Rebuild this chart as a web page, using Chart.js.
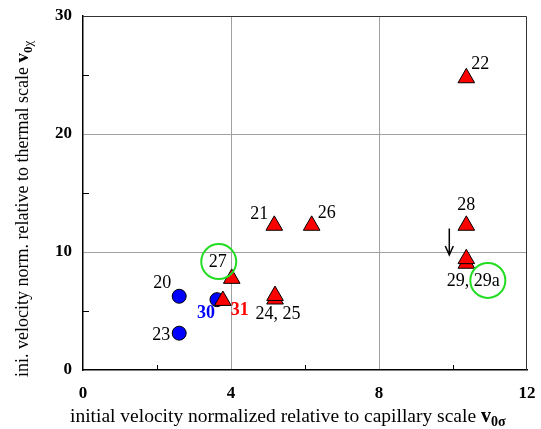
<!DOCTYPE html>
<html><head><meta charset="utf-8">
<script src="https://cdn.jsdelivr.net/npm/chart.js@4/dist/chart.umd.min.js"></script>
<style>html,body{margin:0;padding:0;background:#fff}#wrap{width:541px;height:429px;position:relative}</style>
</head><body><div id="wrap"><canvas id="c"></canvas></div>
<script>
// ---- data ----
const xTickLabels = [0, 4, 8, 12];
const yTickLabels = [0, 10, 20, 30];
// blue circles: runs 20, 23, 30
const circleNames = ['20', '23', '30'];
const circleX = [2.6, 2.6, 3.62];
const circleY = [6.25, 3.12, 5.96];
// red triangles: runs 31, 27, 21, 26, 25, 24, 22, 28, 29a, 29
const triNames = ['31', '27', '21', '26', '25', '24', '22', '28', '29a', '29'];
const triX = [3.78, 4.02, 5.17, 6.18, 5.19, 5.19, 10.36, 10.36, 10.36, 10.36];
const triY = [5.88, 7.75, 12.25, 12.25, 6.0, 6.3, 24.75, 12.25, 9.03, 9.42];
// arrow (data units)
const arrowX = [9.9];
const arrowY = [12.0, 9.75];

// ---- annotation layout (pixel offsets from the anchoring point) ----
const SERIF = "'Liberation Serif','Times New Roman',serif";
const labelLayout = [
  {text:'20', ds:1, i:0, dx:-17, dy:-13},
  {text:'23', ds:1, i:1, dx:-18, dy:2},
  {text:'30', ds:1, i:2, dx:-11, dy:14, color:'#0000ff', bold:true},
  {text:'31', ds:0, i:0, dx:17, dy:10, color:'#ff0000', bold:true},
  {text:'27', ds:0, i:1, dx:-14, dy:-16, ring:'all'},
  {text:'21', ds:0, i:2, dx:-15, dy:-11},
  {text:'26', ds:0, i:3, dx:15, dy:-12},
  {text:'24, 25', ds:0, i:4, dx:3, dy:15},
  {text:'22', ds:0, i:6, dx:14, dy:-14},
  {text:'28', ds:0, i:7, dx:0, dy:-20},
  {text:'29, 29a', ds:0, i:8, dx:7, dy:18, ring:'29a'}
];

const deco = {
  id: 'deco',
  beforeDatasetsDraw(chart) {
    const {ctx, chartArea: a, scales: {x, y}} = chart;
    ctx.save();
    // top / right frame
    ctx.strokeStyle = '#333'; ctx.lineWidth = 1;
    ctx.beginPath();
    ctx.moveTo(a.left, a.top + 0.5); ctx.lineTo(a.right - 0.5, a.top + 0.5); ctx.lineTo(a.right - 0.5, a.bottom);
    ctx.stroke();
    // minor inward ticks
    ctx.strokeStyle = '#000'; ctx.lineWidth = 1;
    x.ticks.filter(t => t.value % 4 !== 0).forEach(t => {
      const px = Math.round(x.getPixelForValue(t.value)) + 0.5;
      ctx.beginPath(); ctx.moveTo(px, a.bottom); ctx.lineTo(px, a.bottom - 5); ctx.stroke();
    });
    y.ticks.filter(t => t.value % 10 !== 0).forEach(t => {
      const py = Math.round(y.getPixelForValue(t.value)) + 0.5;
      ctx.beginPath(); ctx.moveTo(a.left, py); ctx.lineTo(a.left + 6, py); ctx.stroke();
    });
    ctx.restore();
  },
  afterDatasetsDraw(chart) {
    const {ctx, chartArea: a, scales: {x, y}} = chart;
    ctx.save();
    // point labels
    labelLayout.forEach(L => {
      const ds = chart.data.datasets[L.ds].data[L.i];
      const px = x.getPixelForValue(ds.x) + L.dx;
      const py = y.getPixelForValue(ds.y) + L.dy;
      ctx.font = (L.bold ? 'bold ' : '') + '18px ' + SERIF;
      ctx.fillStyle = L.color || '#000';
      ctx.textAlign = 'center'; ctx.textBaseline = 'middle';
      ctx.fillText(L.text, px, py);
      if (L.ring) {
        let cx = px;
        if (L.ring !== 'all') {
          const w = ctx.measureText(L.text).width;
          const wt = ctx.measureText(L.ring).width;
          cx = px + w / 2 - wt / 2;
        }
        ctx.strokeStyle = '#22dd22'; ctx.lineWidth = 2;
        ctx.beginPath(); ctx.arc(cx + 1, py - 1, 17.5, 0, Math.PI * 2); ctx.stroke();
      }
    });
    // arrow
    const ax = x.getPixelForValue(arrowX[0]);
    const ay1 = y.getPixelForValue(arrowY[0]), ay2 = y.getPixelForValue(arrowY[1]);
    ctx.strokeStyle = '#000'; ctx.lineWidth = 1.5;
    ctx.beginPath(); ctx.moveTo(ax, ay1); ctx.lineTo(ax, ay2);
    ctx.moveTo(ax - 4, ay2 - 9); ctx.lineTo(ax, ay2); ctx.lineTo(ax + 4, ay2 - 9);
    ctx.stroke();
    // axis titles with subscripts
    const drawSegs = (segs, sx, sy) => {
      let cx = sx;
      segs.forEach(s => {
        ctx.font = s.font;
        ctx.fillText(s.t, cx, sy + (s.dy || 0));
        cx += ctx.measureText(s.t).width;
      });
    };
    ctx.fillStyle = '#000'; ctx.textAlign = 'left'; ctx.textBaseline = 'alphabetic';
    drawSegs([
      {t:'initial velocity normalized relative to capillary scale ', font:'19.5px ' + SERIF},
      {t:'v', font:'bold 20px ' + SERIF},
      {t:'0σ', font:'bold 14px ' + SERIF, dy:4}
    ], a.left - 13, 422);
    ctx.save();
    ctx.translate(28, a.bottom + 7);
    ctx.rotate(-Math.PI / 2);
    drawSegs([
      {t:'ini. velocity norm. relative to thermal scale ', font:'18px ' + SERIF},
      {t:'v', font:'bold 19px ' + SERIF},
      {t:'0', font:'bold 13px ' + SERIF, dy:4},
      {t:'χ', font:'13px ' + SERIF, dy:4}
    ], 0, 0);
    ctx.restore();
    ctx.restore();
  }
};

const tickFont = {family: SERIF, size: 17, weight: 'bold'};
new Chart(document.getElementById('c'), {
  type: 'scatter',
  data: {
    datasets: [
      {label:'triangles', data: triX.map((v, i) => ({x: v, y: triY[i]})), pointStyle:'triangle',
       pointRadius:9.6, pointHoverRadius:9.6, backgroundColor:'#ff0000', borderColor:'#000', borderWidth:1},
      {label:'circles', data: circleX.map((v, i) => ({x: v, y: circleY[i]})), pointStyle:'circle',
       pointRadius:7, pointHoverRadius:7, backgroundColor:'#0000ff', borderColor:'#000', borderWidth:1}
    ]
  },
  options: {
    responsive: true, maintainAspectRatio: false, animation: false, events: [],
    layout: {padding: {top: 16, right: 14, left: 0, bottom: 0}},
    plugins: {legend: {display: false}, tooltip: {enabled: false}},
    scales: {
      x: {
        type: 'linear', min: 0, max: 12,
        afterFit: s => { s.height = 59; s.paddingLeft = 0; s.paddingRight = 0; },
        ticks: {stepSize: 2, autoSkip: false, maxRotation: 0, padding: 13, color: '#000', font: tickFont,
          callback: v => xTickLabels.includes(v) ? String(v) : ''},
        grid: {drawTicks: false, lineWidth: 1,
          color: c => (c.tick && xTickLabels.includes(c.tick.value) && c.tick.value !== 0 && c.tick.value !== 12) ? '#a0a0a0' : 'rgba(0,0,0,0)'},
        border: {display: true, color: '#000', width: 1.5}
      },
      y: {
        type: 'linear', min: 0, max: 30,
        afterFit: s => { s.width = 83; s.paddingTop = 0; s.paddingBottom = 0; },
        ticks: {stepSize: 5, autoSkip: false, padding: 11, color: '#000', font: tickFont,
          callback: v => yTickLabels.includes(v) ? String(v) : ''},
        grid: {drawTicks: false, lineWidth: 1,
          color: c => (c.tick && yTickLabels.includes(c.tick.value) && c.tick.value !== 0 && c.tick.value !== 30) ? '#a0a0a0' : 'rgba(0,0,0,0)'},
        border: {display: true, color: '#000', width: 1.5}
      }
    }
  },
  plugins: [deco]
});
</script>
</body></html>
